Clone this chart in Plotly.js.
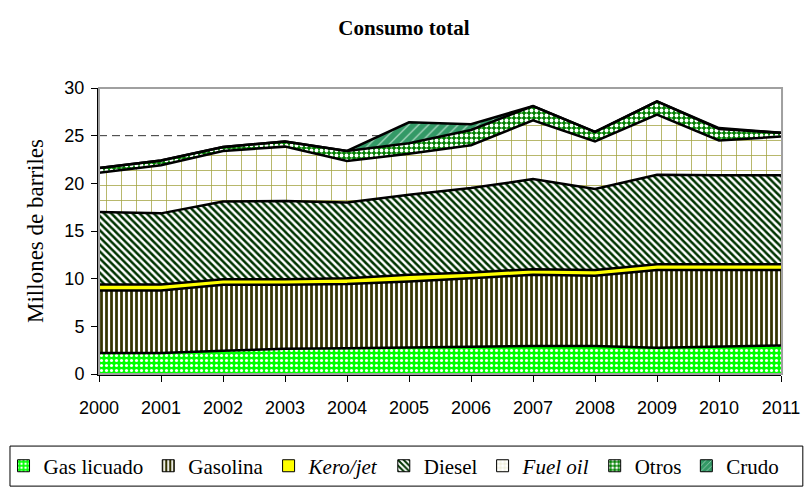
<!DOCTYPE html>
<html>
<head>
<meta charset="utf-8">
<script src="https://cdn.plot.ly/plotly-3.0.1.min.js"></script>
<style>html,body{margin:0;padding:0;background:#fff;}#chart{width:808px;height:489px;}</style>
</head>
<body>
<div id="chart"></div>
<script>
const years = [2000,2001,2002,2003,2004,2005,2006,2007,2008,2009,2010,2011];
const gasLicuado = [2.2,2.2,2.45,2.65,2.7,2.75,2.85,2.95,2.95,2.75,2.85,3.0];
const gasolina = [6.55,6.55,6.9,6.7,6.75,6.95,7.2,7.45,7.35,8.15,8.05,7.9];
const keroJet = [0.65,0.65,0.6,0.6,0.6,0.7,0.6,0.6,0.6,0.6,0.6,0.6];
const diesel = [7.6,7.45,8.15,8.2,7.95,8.4,8.85,9.45,8.5,9.4,9.35,9.35];
const fuelOil = [4.1,5.05,5.3,5.7,4.35,4.3,4.5,6.15,5.0,6.3,3.65,4.05];
const otros = [0.5,0.5,0.4,0.55,1.05,1.1,1.6,1.5,1.0,1.4,1.2,0.4];
const crudo = [0,0,0,0,0,2.2,0.6,0,0,0,0.1,0];
const seriesNames = ['Gas licuado','Gasolina','<i>Kero/jet</i>','Diesel','<i>Fuel oil</i>','Otros','Crudo'];
const yTicks = [0,5,10,15,20,25,30];
const refLevel = 25;

const SERIF = "'Liberation Serif', 'Times New Roman', serif";
const SANS = "'Liberation Sans', Arial, sans-serif";

const styles = [
  {shape:'.', bg:'#00ff00', fg:'#ffffff', size:5, sol:0.3, fill:'#00ff00'},
  {shape:'|', bg:'#ffffff', fg:'#333300', size:5, sol:0.55, fill:'#333300'},
  {shape:'', bg:'#ffff00', fg:'#ffff00', size:5, sol:0.5, fill:'#ffff00'},
  {shape:'\\', bg:'#ffffff', fg:'#003300', size:5, sol:0.5, fill:'#003300'},
  {shape:'+', bg:'#ffffff', fg:'#a3a340', size:15, sol:0.1, fill:'#ffffff'},
  {shape:'.', bg:'#008000', fg:'#ffffff', size:5, sol:0.45, fill:'#008000'},
  {shape:'/', bg:'#339966', fg:'#c8e6d6', size:7, sol:0.15, fill:'#339966'}
];
const vals = [gasLicuado,gasolina,keroJet,diesel,fuelOil,otros,crudo];

const traces = vals.map((v,i)=>{
  const s = styles[i];
  const t = {
    x: years, y: v, name: seriesNames[i], type:'scatter', mode:'lines',
    stackgroup:'one', line:{color:'#000000', width:2.5, shape:'linear'},
    fillcolor: s.fill, hoverinfo:'skip', showlegend:false
  };
  if (s.shape) {
    t.fillpattern = {shape:s.shape, bgcolor:s.bg, fgcolor:s.fg, size:s.size, solidity:s.sol, fillmode:'replace'};
  }
  return t;
});

// legend-only entries (square swatches like the reference)
const legendTraces = seriesNames.map((n,i)=>{
  const s = styles[i];
  const m = {color:s.bg, line:{color:'#000', width:1}};
  if (s.shape) m.pattern = {shape:s.shape, bgcolor:s.bg, fgcolor:s.fg, size:Math.min(s.size,5), solidity:s.sol, fillmode:'replace'};
  return {type:'bar', x:[null], y:[null], name:n, marker:m, showlegend:true, hoverinfo:'skip'};
});

const layout = {
  width:808, height:489,
  margin:{l:99, r:27, t:88, b:115, autoexpand:false},
  paper_bgcolor:'#ffffff', plot_bgcolor:'#ffffff',
  title:{text:'<b>Consumo total</b>', x:0.5, xanchor:'center', y:0.943, yanchor:'middle',
    font:{family:SERIF, size:21, color:'#000'}},
  font:{family:SANS, color:'#000'},
  xaxis:{range:[2000,2011], tickvals:years, ticktext:years.map(String), showgrid:false, zeroline:false,
    showline:true, linecolor:'#000', linewidth:2, ticks:'outside', ticklen:6, tickcolor:'#000', tickwidth:1,
    ticklabelstandoff:10, automargin:false,
    tickfont:{family:SANS, size:18, color:'#000'}},
  yaxis:{range:[0,30], tickvals:yTicks, showgrid:false, zeroline:false,
    showline:true, linecolor:'#000', linewidth:2, ticks:'outside', ticklen:6, tickcolor:'#000', tickwidth:1,
    ticklabelstandoff:3, automargin:false,
    tickfont:{family:SANS, size:18, color:'#000'},
    title:{text:'Millones de barriles', standoff:14, font:{family:SERIF, size:23, color:'#000'}}},
  showlegend:true,
  legend:{orientation:'h', x:-0.14, xanchor:'left', y:-0.322, yanchor:'middle',
    font:{family:SERIF, size:21, color:'#000'},
    bgcolor:'rgba(0,0,0,0)', borderwidth:0, itemwidth:30, tracegroupgap:0, traceorder:'normal'},
  shapes:[
    {type:'line', xref:'paper', yref:'y', x0:0, x1:1, y0:refLevel, y1:refLevel, layer:'below',
      line:{color:'#333', width:1, dash:'8px,5px'}},
    {type:'rect', xref:'paper', yref:'paper', x0:0, x1:1.0015, y0:0, y1:1, layer:'above',
      line:{color:'#a0a0a0', width:2}, fillcolor:'rgba(0,0,0,0)'},
    {type:'rect', xref:'paper', yref:'paper', x0:-0.1305, x1:1.032, y0:-0.252, y1:-0.392, layer:'above',
      line:{color:'#000', width:1}, fillcolor:'rgba(0,0,0,0)'}
  ]
};

Plotly.newPlot('chart', traces.concat(legendTraces), layout, {displayModeBar:false, staticPlot:true});
</script>
</body>
</html>
